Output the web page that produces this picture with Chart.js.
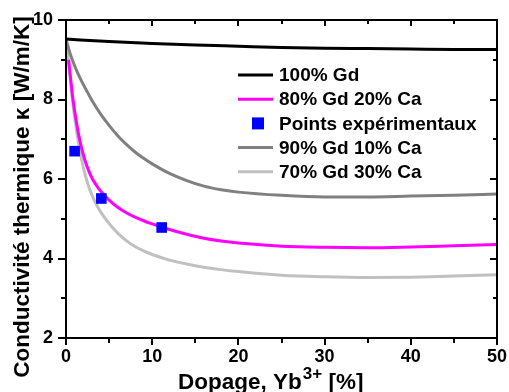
<!DOCTYPE html>
<html>
<head>
<meta charset="utf-8">
<script src="https://cdn.jsdelivr.net/npm/chart.js@4.4.1/dist/chart.umd.min.js"></script>
<style>
  html, body { margin: 0; padding: 0; background: #fff; }
  #wrap { width: 509px; height: 392px; position: relative; }
</style>
</head>
<body>
<div id="wrap"><canvas id="c"></canvas></div>
<script>
// Conductivité thermique κ (W/m/K) en fonction du dopage Yb3+ (%)
const gd100X = [0, 5, 10, 15, 20, 25, 30, 35, 40, 45, 50];
const gd100Y = [9.52, 9.46, 9.41, 9.37, 9.34, 9.31, 9.29, 9.28, 9.27, 9.26, 9.26];

const gd80X = [0.3, 0.5, 0.75, 1, 1.5, 2, 2.5, 3, 3.5, 4, 5, 6, 7, 8, 9, 10, 12, 14, 16, 18, 20, 25, 30, 35, 40, 45, 50];
const gd80Y = [9.00, 8.60, 8.10, 7.72, 7.08, 6.62, 6.28, 6.03, 5.85, 5.70, 5.47, 5.29, 5.15, 5.04, 4.95, 4.87, 4.73, 4.61, 4.51, 4.44, 4.39, 4.31, 4.28, 4.27, 4.29, 4.32, 4.35];

const gd90X = [0, 0.5, 1, 1.5, 2, 2.5, 3, 4, 5, 6, 7, 8, 9, 10, 12, 14, 16, 18, 20, 25, 30, 35, 40, 45, 50];
const gd90Y = [9.52, 9.14, 8.85, 8.60, 8.38, 8.18, 7.98, 7.64, 7.35, 7.09, 6.87, 6.68, 6.52, 6.38, 6.14, 5.96, 5.82, 5.73, 5.67, 5.59, 5.55, 5.55, 5.57, 5.59, 5.62];

const gd70X = [0, 0.25, 0.5, 0.75, 1, 1.5, 2, 2.5, 3, 3.5, 4, 5, 6, 7, 8, 9, 10, 12, 14, 16, 18, 20, 25, 30, 35, 40, 45, 50];
const gd70Y = [9.52, 9.00, 8.50, 8.00, 7.55, 6.85, 6.30, 5.90, 5.60, 5.37, 5.18, 4.88, 4.64, 4.45, 4.30, 4.19, 4.10, 3.96, 3.86, 3.78, 3.72, 3.67, 3.58, 3.54, 3.52, 3.53, 3.56, 3.59];

const expX = [1.0, 4.1, 11.1];
const expY = [6.70, 5.51, 4.78];

const xMajor = [0, 10, 20, 30, 40, 50];
const xMinor = [5, 15, 25, 35, 45];
const yMajor = [2, 4, 6, 8, 10];
const yMinor = [3, 5, 7, 9];

const FONT = "'Liberation Sans', Arial, Helvetica, sans-serif";

const pts = (xs, ys) => xs.map((x, i) => ({ x, y: ys[i] }));

function lineSet(label, xs, ys, color, order) {
  return {
    label, data: pts(xs, ys), showLine: true, borderColor: color, backgroundColor: color,
    borderWidth: 3, pointRadius: 0, cubicInterpolationMode: 'monotone', order
  };
}

const datasets = [
  lineSet('100% Gd', gd100X, gd100Y, '#000000', 1),
  lineSet('80% Gd 20% Ca', gd80X, gd80Y, '#ff00ff', 2),
  {
    label: 'Points expérimentaux', data: pts(expX, expY), showLine: false,
    pointStyle: 'rect', pointRadius: 7.5, pointHoverRadius: 7.5, borderWidth: 0,
    backgroundColor: '#0000ff', borderColor: '#0000ff', order: 0
  },
  lineSet('90% Gd 10% Ca', gd90X, gd90Y, '#808080', 3),
  lineSet('70% Gd 30% Ca', gd70X, gd70Y, '#c0c0c0', 4)
];

// cadre, graduations sur les quatre côtés, titres des axes et légende
const decor = {
  id: 'decor',
  afterDatasetsDraw(chart) {
    const { ctx, chartArea: a, scales: { x, y } } = chart;
    ctx.save();
    ctx.strokeStyle = '#000';
    ctx.lineWidth = 2;
    ctx.strokeRect(a.left, a.top, a.right - a.left, a.bottom - a.top);
    ctx.beginPath();
    const xt = (vals, len) => vals.forEach(v => {
      const px = Math.round(x.getPixelForValue(v));
      ctx.moveTo(px, a.bottom); ctx.lineTo(px, a.bottom + len);
      ctx.moveTo(px, a.top); ctx.lineTo(px, a.top + len - 1);
    });
    const yt = (vals, len) => vals.forEach(v => {
      const py = Math.round(y.getPixelForValue(v));
      ctx.moveTo(a.left, py); ctx.lineTo(a.left - len, py);
      ctx.moveTo(a.right, py); ctx.lineTo(a.right - len + 1, py);
    });
    xt(xMajor, 7); xt(xMinor, 5);
    yt(yMajor, 8); yt(yMinor, 5);
    ctx.stroke();
    ctx.restore();
  },
  afterDraw(chart) {
    const { ctx, chartArea: a } = chart;
    ctx.save();
    ctx.fillStyle = '#000';

    // titre de l'axe vertical
    ctx.save();
    ctx.translate(29, 197);
    ctx.rotate(-Math.PI / 2);
    ctx.font = `bold 22.5px ${FONT}`;
    ctx.textAlign = 'center';
    ctx.textBaseline = 'alphabetic';
    ctx.fillText('Conductivité thermique κ [W/m/K]', 0, 0);
    ctx.restore();

    // titre de l'axe horizontal avec exposant
    const big = `bold 22.5px ${FONT}`, small = `bold 17px ${FONT}`;
    const p1 = 'Dopage, Yb', p2 = '3+', p3 = ' [%]';
    ctx.font = big; const w1 = ctx.measureText(p1).width;
    ctx.font = small; const w2 = ctx.measureText(p2).width;
    let tx = 178;
    const base = 389;
    ctx.textBaseline = 'alphabetic';
    ctx.textAlign = 'left';
    ctx.font = big; ctx.fillText(p1, tx, base); tx += w1 + 1;
    ctx.font = small; ctx.fillText(p2, tx, base - 10); tx += w2;
    ctx.font = big; ctx.fillText(p3, tx, base);

    // légende
    const lx = a.left + 172, ly = a.top + 55, dy = 24.2;
    ctx.font = `bold 19px ${FONT}`;
    ctx.textBaseline = 'middle';
    chart.data.datasets.forEach((ds, i) => {
      const cy = ly + i * dy;
      if (ds.showLine) {
        ctx.strokeStyle = ds.borderColor;
        ctx.lineWidth = 3;
        ctx.beginPath(); ctx.moveTo(lx, cy); ctx.lineTo(lx + 35, cy); ctx.stroke();
      } else {
        ctx.fillStyle = ds.backgroundColor;
        ctx.fillRect(lx + 14, cy - 6, 12, 12);
      }
      ctx.fillStyle = '#000';
      ctx.fillText(ds.label, lx + 41, cy + 1);
    });
    ctx.restore();
  }
};

const tickFont = { family: FONT, weight: 'bold', size: 18 };

new Chart(document.getElementById('c'), {
  type: 'scatter',
  data: { datasets },
  options: {
    animation: false,
    responsive: true,
    maintainAspectRatio: false,
    layout: { padding: { top: 20, right: 12, left: 0, bottom: 0 } },
    plugins: { legend: { display: false }, tooltip: { enabled: false } },
    scales: {
      x: {
        type: 'linear', min: 0, max: 50,
        ticks: { stepSize: 10, color: '#000', font: tickFont, padding: 8, maxRotation: 0, autoSkip: false },
        grid: { display: false, drawTicks: false },
        border: { display: false },
        afterFit(s) { s.height = 54; s.paddingLeft = 0; s.paddingRight = 0; }
      },
      y: {
        type: 'linear', min: 2, max: 10,
        ticks: { stepSize: 2, color: '#000', font: tickFont, padding: 13, autoSkip: false },
        grid: { display: false, drawTicks: false },
        border: { display: false },
        afterFit(s) { s.width = 66; s.paddingTop = 0; s.paddingBottom = 0; }
      }
    }
  },
  plugins: [decor]
});
</script>
</body>
</html>
